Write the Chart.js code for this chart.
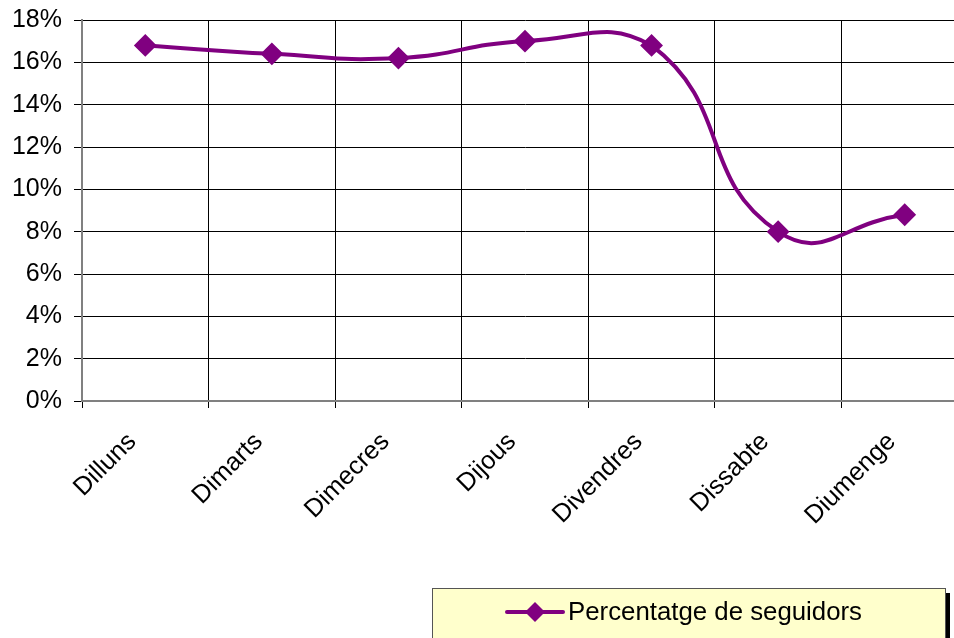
<!DOCTYPE html>
<html>
<head>
<meta charset="utf-8">
<script src="https://cdn.jsdelivr.net/npm/chart.js@4"></script>
<style>
html,body{margin:0;padding:0;overflow:hidden;background:#fff;width:954px;height:638px;}
#wrap{position:absolute;left:0;top:0;width:980px;height:638px;}
</style>
</head>
<body>
<div id="wrap"><canvas id="c" width="980" height="638"></canvas></div>
<script>
const categories = ['Dilluns','Dimarts','Dimecres','Dijous','Divendres','Dissabte','Diumenge'];
const seguidors = [16.8, 16.4, 16.2, 17.0, 16.8, 8.0, 8.8];
const yTicks = [0, 2, 4, 6, 8, 10, 12, 14, 16, 18];
const seriesName = 'Percentatge de seguidors';

const FONT = "'Liberation Sans', Arial, sans-serif";
const PURPLE = '#800080';

const legendPlugin = {
  id: 'boxLegend',
  afterDraw(chart) {
    const ctx = chart.ctx;
    const x = 432, y = 588, w = 514, h = 60;
    ctx.save();
    ctx.fillStyle = '#000';
    ctx.fillRect(x + w, y + 5, 4, h);
    ctx.fillStyle = '#FFFFCC';
    ctx.fillRect(x, y, w, h);
    ctx.strokeStyle = '#555';
    ctx.lineWidth = 1;
    ctx.strokeRect(x + 0.5, y + 0.5, w - 1, h);
    const cy = 612;
    ctx.strokeStyle = PURPLE;
    ctx.lineWidth = 4;
    ctx.lineCap = 'round';
    ctx.beginPath();
    ctx.moveTo(507, cy);
    ctx.lineTo(563, cy);
    ctx.stroke();
    ctx.fillStyle = PURPLE;
    ctx.beginPath();
    ctx.moveTo(535, cy - 10);
    ctx.lineTo(545, cy);
    ctx.lineTo(535, cy + 10);
    ctx.lineTo(525, cy);
    ctx.closePath();
    ctx.fill();
    ctx.fillStyle = '#000';
    ctx.font = '25.8px ' + FONT;
    ctx.textBaseline = 'middle';
    ctx.textAlign = 'left';
    ctx.fillText(seriesName, 568, cy + 1);
    ctx.restore();
  }
};

new Chart(document.getElementById('c'), {
  type: 'line',
  data: {
    labels: categories,
    datasets: [{
      label: seriesName,
      data: seguidors,
      borderColor: PURPLE,
      backgroundColor: PURPLE,
      borderWidth: 4,
      tension: 0.5,
      pointStyle: 'rectRot',
      pointRadius: 10,
      pointBorderWidth: 2,
      pointBackgroundColor: PURPLE,
      pointBorderColor: PURPLE,
      fill: false
    }]
  },
  options: {
    responsive: false,
    animation: false,
    events: [],
    layout: { padding: { top: 20, right: 0, left: 0, bottom: 0 } },
    plugins: { legend: { display: false }, tooltip: { enabled: false } },
    scales: {
      x: {
        offset: true,
        grid: { offset: true, color: '#000', lineWidth: 1, tickLength: 7, drawTicks: true },
        border: { color: '#808080', width: 2 },
        ticks: { color: '#000', font: { family: FONT, size: 25.5 }, minRotation: 45, maxRotation: 45, padding: 19, labelOffset: -13, autoSkip: false },
        afterFit(scale) { scale.height = 237; }
      },
      y: {
        min: 0, max: 18,
        afterBuildTicks(scale) { scale.ticks = yTicks.map(v => ({ value: v })); },
        grid: { color: '#000', lineWidth: 1, tickLength: 8 },
        border: { color: '#808080', width: 2 },
        ticks: { color: '#000', font: { family: FONT, size: 25 }, padding: 12, callback: v => v + '%' },
        afterFit(scale) { scale.width = 82; scale.paddingTop = 0; scale.paddingBottom = 0; }
      }
    }
  },
  plugins: [legendPlugin]
});
</script>
</body>
</html>
